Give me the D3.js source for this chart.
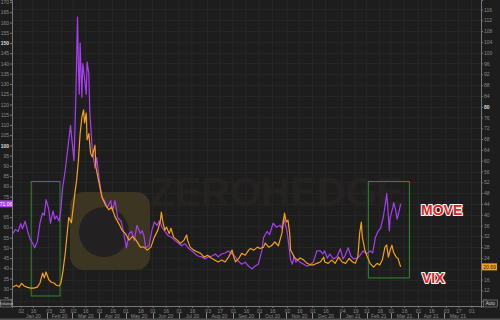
<!DOCTYPE html>
<html>
<head>
<meta charset="utf-8">
<script src="https://cdnjs.cloudflare.com/ajax/libs/d3/7.8.5/d3.min.js"></script>
<style>
  html, body { margin: 0; padding: 0; background: #1d1d1d; overflow: hidden; }
  svg { display: block; font-family: "Liberation Sans", Arial, sans-serif; }
</style>
</head>
<body>
<script>
// MOVE 指数 (左轴)
const moveDates = ['2019-12-24','2019-12-27','2019-12-30','2020-01-02','2020-01-04','2020-01-07','2020-01-10','2020-01-13','2020-01-16','2020-01-18',
  '2020-01-21','2020-01-24','2020-01-27','2020-01-29','2020-01-31','2020-02-03','2020-02-05','2020-02-08','2020-02-10','2020-02-12',
  '2020-02-15','2020-02-17','2020-02-19','2020-02-22','2020-02-25','2020-02-28','2020-03-01','2020-03-03','2020-03-05','2020-03-07',
  '2020-03-08','2020-03-09','2020-03-10','2020-03-12','2020-03-13','2020-03-15','2020-03-17','2020-03-18','2020-03-20','2020-03-21',
  '2020-03-24','2020-03-27','2020-03-29','2020-04-01','2020-04-04','2020-04-07','2020-04-10','2020-04-14','2020-04-16','2020-04-19',
  '2020-04-22','2020-04-26','2020-04-29','2020-05-02','2020-05-05','2020-05-08','2020-05-11','2020-05-14','2020-05-18','2020-05-20',
  '2020-05-22','2020-05-24','2020-05-28','2020-05-31','2020-06-03','2020-06-06','2020-06-09','2020-06-12','2020-06-15','2020-06-19',
  '2020-06-23','2020-06-27','2020-06-30','2020-07-04','2020-07-08','2020-07-12','2020-07-16','2020-07-20','2020-07-23','2020-07-27',
  '2020-07-31','2020-08-04','2020-08-08','2020-08-12','2020-08-15','2020-08-19','2020-08-23','2020-08-27','2020-08-31','2020-09-03',
  '2020-09-07','2020-09-11','2020-09-15','2020-09-19','2020-09-23','2020-09-26','2020-09-30','2020-10-04','2020-10-06','2020-10-10',
  '2020-10-13','2020-10-17','2020-10-21','2020-10-25','2020-10-27','2020-10-29','2020-11-02','2020-11-04','2020-11-06','2020-11-08',
  '2020-11-10','2020-11-12','2020-11-14','2020-11-17','2020-11-21','2020-11-25','2020-11-29','2020-12-02','2020-12-06','2020-12-10',
  '2020-12-13','2020-12-15','2020-12-18','2020-12-21','2020-12-25','2020-12-29','2021-01-02','2021-01-05','2021-01-07','2021-01-11',
  '2021-01-14','2021-01-17','2021-01-21','2021-01-24','2021-01-28','2021-02-01','2021-02-05','2021-02-08','2021-02-11','2021-02-14',
  '2021-02-17','2021-02-20','2021-02-23','2021-02-24','2021-02-25','2021-02-27','2021-02-28','2021-03-03','2021-03-04','2021-03-06',
  '2021-03-08','2021-03-10','2021-03-12'];
const moveValues = [57,59,58,61.8,59.3,63,58,54,52,50,
  53,62,67,66,73.5,69,62,68,64,65.5,
  63,69,79.4,88,99,109.8,101,92.6,122,162.7,
  138,125,150,123.5,140,133,125,140.7,135,117,
  97.5,89,94,83,74.5,73,69.6,73,68,73,
  64.7,63,57,50,57,58,53.4,61,57,58.3,
  56,50,51,58.3,62.7,61,63.2,59.8,58,55.9,
  55,53.4,52.5,51,52,49.8,48.5,47,46,45.6,
  44.6,45.6,46,47,45.6,47,47.5,48.5,47,46,
  43.6,42,43,41,39.7,41,42,48.5,54.9,58,
  56.5,62,60,61,59.5,64.7,58,51,44,42,
  46,43,44,43,42,41,42,43,48.5,48.5,
  47,48.5,45,47,44.6,45.5,49.5,44.6,46,50,
  46,44.6,45,46,48.5,47,48.5,47.5,54.9,58,
  59.5,64.7,73,76.5,71.5,58.3,64.7,69.6,72,69,
  64,67.5,71.5];

// VIX 指数 (右轴)
const vixDates = ['2019-12-24','2019-12-28','2019-12-31','2020-01-03','2020-01-06','2020-01-09','2020-01-13','2020-01-17','2020-01-21','2020-01-24',
  '2020-01-27','2020-01-29','2020-01-31','2020-02-03','2020-02-06','2020-02-09','2020-02-12','2020-02-15','2020-02-17','2020-02-19',
  '2020-02-22','2020-02-26','2020-02-29','2020-03-04','2020-03-06','2020-03-08','2020-03-10','2020-03-12','2020-03-14','2020-03-15',
  '2020-03-17','2020-03-18','2020-03-20','2020-03-22','2020-03-24','2020-03-27','2020-03-28','2020-03-31','2020-04-04','2020-04-08',
  '2020-04-12','2020-04-15','2020-04-19','2020-04-23','2020-04-27','2020-05-01','2020-05-05','2020-05-09','2020-05-13','2020-05-18',
  '2020-05-22','2020-05-26','2020-05-30','2020-06-03','2020-06-07','2020-06-10','2020-06-11','2020-06-13','2020-06-15','2020-06-17',
  '2020-06-20','2020-06-22','2020-06-25','2020-06-29','2020-07-03','2020-07-07','2020-07-10','2020-07-11','2020-07-14','2020-07-18',
  '2020-07-22','2020-07-26','2020-07-30','2020-08-03','2020-08-07','2020-08-11','2020-08-15','2020-08-19','2020-08-23','2020-08-27',
  '2020-08-31','2020-09-02','2020-09-04','2020-09-08','2020-09-11','2020-09-15','2020-09-19','2020-09-21','2020-09-25','2020-09-29',
  '2020-10-02','2020-10-06','2020-10-08','2020-10-12','2020-10-15','2020-10-19','2020-10-23','2020-10-27','2020-10-29','2020-10-30',
  '2020-11-01','2020-11-03','2020-11-05','2020-11-06','2020-11-08','2020-11-10','2020-11-14','2020-11-17','2020-11-21','2020-11-25',
  '2020-11-29','2020-12-02','2020-12-06','2020-12-10','2020-12-14','2020-12-15','2020-12-19','2020-12-23','2020-12-27','2020-12-31',
  '2021-01-04','2021-01-08','2021-01-12','2021-01-16','2021-01-19','2021-01-22','2021-01-24','2021-01-26','2021-01-27','2021-01-30',
  '2021-02-02','2021-02-05','2021-02-09','2021-02-13','2021-02-16','2021-02-19','2021-02-22','2021-02-24','2021-02-26','2021-02-28',
  '2021-03-02','2021-03-04','2021-03-07','2021-03-09','2021-03-12'];
const vixValues = [13.2,13.9,13.2,14.6,13.6,13.2,12.8,12.8,13.2,14.7,
  18.4,16.6,18.8,16,15,14.7,13.9,13.6,14.7,18.4,
  25.8,39,37,48,52.8,60,70,76,78.8,74,
  77.6,67.7,70,62.8,61.4,65.8,57.7,52.8,46.6,43.6,
  41.8,42.9,39.2,36.9,34.3,33,30.6,32,30.6,28,
  28,26.9,28,31.7,34.3,38,41,36.9,34.3,35.4,
  33,35,31.7,30.6,29.4,30.6,32.5,30.6,28,26.9,
  26.3,25.7,24.3,25,24,23.2,22.5,23.2,22.5,24.3,
  26.9,24.3,22.5,24,25.7,25,26.9,27.5,26.9,28,
  27.5,28,29.5,28,28.5,29.9,28.5,33.1,38,40.6,
  37.3,38,33,26.9,25.7,24.3,23.2,24,23.2,22,
  21.4,21.4,22,22.5,24.3,22.5,22,23.2,22,24.3,
  22.5,22,23.8,22.5,22,24.3,33,37.3,32,26.9,
  24.3,22,20.6,22,21.4,23.2,28,28.8,24.3,26.9,
  28.7,26,24.3,23.8,20.69];

// 刻度
const leftTicks = d3.range(25, 171, 5);
const rightTicks = d3.range(8, 117, 4);
const boldLeft = [100, 150];
const boldRight = [80];
const dayTicks = ['2020-01-02','2020-01-16','2020-02-03','2020-02-18','2020-03-02','2020-03-16','2020-04-01','2020-04-16',
  '2020-05-01','2020-05-18','2020-06-01','2020-06-16','2020-07-01','2020-07-16','2020-08-03','2020-08-17','2020-09-01',
  '2020-09-16','2020-10-01','2020-10-16','2020-11-02','2020-11-16','2020-12-01','2020-12-16','2021-01-04','2021-01-19',
  '2021-02-01','2021-02-16','2021-03-01','2021-03-16','2021-04-01','2021-04-16','2021-05-03','2021-05-17','2021-06-01'];
const monthStarts = ['2020-01-01','2020-02-01','2020-03-01','2020-04-01','2020-05-01','2020-06-01','2020-07-01','2020-08-01',
  '2020-09-01','2020-10-01','2020-11-01','2020-12-01','2021-01-01','2021-02-01','2021-03-01','2021-04-01','2021-05-01','2021-06-01'];
const monthLabels = ['Jan 20','Feb 20','Mar 20','Apr 20','May 20','Jun 20','Jul 20','Aug 20','Sep 20','Oct 20','Nov 20','Dec 20',
  'Jan 21','Feb 21','Mar 21','Apr 21','May 21'];

// 绿色标注框 (日期 + 左轴数值)
const boxFrom = ['2020-01-14', '2021-02-03'];
const boxTo = ['2020-02-16', '2021-03-22'];
const boxLow = [26.5, 35.3];
const boxHigh = [82.4, 82.4];

const lastMoveLabel = '71.06';
const lastVixLabel = '20.69';

const width = 500, height = 320;
const margin = { top: 0, right: 19, bottom: 14, left: 12 };
const parse = d3.timeParse('%Y-%m-%d');

const svg = d3.select('body').append('svg')
    .attr('width', width)
    .attr('height', height);

svg.append('rect').attr('width', width).attr('height', height).attr('fill', '#1d1d1d');

const x = d3.scaleTime()
    .domain([parse('2019-12-23'), parse('2021-06-12')])
    .range([margin.left, width - margin.right]);
const yLeft = d3.scaleLinear().domain([21.6, 171]).range([height - margin.bottom, margin.top]);
const yRight = d3.scaleLinear().domain([6.2, 119.5]).range([height - margin.bottom, margin.top]);

const plotBottom = height - margin.bottom;
const moveY = yLeft(moveValues[moveValues.length - 1]);
const vixY = yRight(vixValues[vixValues.length - 1]);

// 网格线
svg.append('g').selectAll('line')
    .data(dayTicks)
    .enter().append('line')
    .attr('x1', d => x(parse(d))).attr('x2', d => x(parse(d)))
    .attr('y1', 0).attr('y2', plotBottom)
    .attr('stroke', '#272727').attr('stroke-width', 1);
svg.append('g').selectAll('line')
    .data(rightTicks)
    .enter().append('line')
    .attr('x1', margin.left).attr('x2', width - margin.right)
    .attr('y1', d => Math.round(yRight(d)) + 0.5).attr('y2', d => Math.round(yRight(d)) + 0.5)
    .attr('stroke', '#252525').attr('stroke-width', 1);

// 水印 (很淡)
const wm = svg.append('g');
wm.append('text')
    .attr('x', 150).attr('y', 206)
    .attr('font-size', 40).attr('font-weight', 'bold')
    .attr('fill', '#252320')
    .text('ZEROHEDGE');
wm.append('rect')
    .attr('x', 70).attr('y', 192).attr('width', 80).attr('height', 78).attr('rx', 14)
    .attr('fill', '#3b3522');
wm.append('circle')
    .attr('cx', 104).attr('cy', 232).attr('r', 25)
    .attr('fill', '#222020');

// 绿色标注框
svg.append('g').selectAll('rect')
    .data(boxFrom)
    .enter().append('rect')
    .attr('x', d => x(parse(d)))
    .attr('y', (d, i) => yLeft(boxHigh[i]))
    .attr('width', (d, i) => x(parse(boxTo[i])) - x(parse(d)))
    .attr('height', (d, i) => yLeft(boxLow[i]) - yLeft(boxHigh[i]))
    .attr('fill', 'none')
    .attr('stroke', '#2e8b2e')
    .attr('stroke-width', 1);

// 折线
const moveData = moveDates.map((d, i) => ({ date: parse(d), value: moveValues[i] }));
const vixData = vixDates.map((d, i) => ({ date: parse(d), value: vixValues[i] }));

svg.append('path')
    .datum(moveData)
    .attr('fill', 'none')
    .attr('stroke', '#a83ff0')
    .attr('stroke-width', 1.2)
    .attr('stroke-linejoin', 'round')
    .attr('d', d3.line().x(d => x(d.date)).y(d => yLeft(d.value)));

svg.append('path')
    .datum(vixData)
    .attr('fill', 'none')
    .attr('stroke', '#f5a30f')
    .attr('stroke-width', 1.2)
    .attr('stroke-linejoin', 'round')
    .attr('d', d3.line().x(d => x(d.date)).y(d => yRight(d.value)));

// 左轴 (被数值框盖住的刻度不显示)
const leftAxis = svg.append('g')
    .attr('transform', `translate(${margin.left},0)`)
    .call(d3.axisLeft(yLeft).tickValues(leftTicks.filter(v => Math.abs(yLeft(v) - moveY) > 6)).tickSize(2).tickPadding(1));
leftAxis.select('.domain').attr('stroke', '#777');
leftAxis.selectAll('.tick line').attr('stroke', '#777');
leftAxis.selectAll('.tick text')
    .attr('fill', d => boldLeft.includes(d) ? '#dddddd' : '#8a8a8a')
    .attr('font-weight', d => boldLeft.includes(d) ? 'bold' : 'normal')
    .style('font-size', '5px');

// 右轴
const rightAxis = svg.append('g')
    .attr('transform', `translate(${width - margin.right},0)`)
    .call(d3.axisRight(yRight).tickValues(rightTicks.filter(v => Math.abs(yRight(v) - vixY) > 6)).tickSize(2).tickPadding(1));
rightAxis.select('.domain').attr('stroke', '#777');
rightAxis.selectAll('.tick line').attr('stroke', '#777');
rightAxis.selectAll('.tick text')
    .attr('fill', d => boldRight.includes(d) ? '#dddddd' : '#8a8a8a')
    .attr('font-weight', d => boldRight.includes(d) ? 'bold' : 'normal')
    .style('font-size', '5px');

// 底轴
const bottomAxis = svg.append('g')
    .attr('transform', `translate(0,${plotBottom})`)
    .call(d3.axisBottom(x).tickValues(dayTicks.map(parse)).tickFormat(d3.timeFormat('%d')).tickSize(2).tickPadding(1));
bottomAxis.select('.domain').attr('stroke', '#777');
bottomAxis.selectAll('.tick line').attr('stroke', '#777');
bottomAxis.selectAll('.tick text').attr('fill', '#8a8a8a').style('font-size', '5px');

// 月份分隔与标签
svg.append('g').selectAll('line')
    .data(monthStarts.slice(1, -1))
    .enter().append('line')
    .attr('x1', d => Math.round(x(parse(d))) + 0.5).attr('x2', d => Math.round(x(parse(d))) + 0.5)
    .attr('y1', plotBottom + 7).attr('y2', height - 1)
    .attr('stroke', '#8a8a8a').attr('stroke-width', 1);
svg.append('g').selectAll('text')
    .data(monthLabels)
    .enter().append('text')
    .attr('x', (d, i) => (x(parse(monthStarts[i])) + x(parse(monthStarts[i + 1]))) / 2)
    .attr('y', plotBottom + 12)
    .attr('text-anchor', 'middle')
    .attr('fill', '#8a8a8a')
    .style('font-size', '5px')
    .text(d => d);
svg.append('rect')
    .attr('x', 0).attr('y', height - 1.5).attr('width', width).attr('height', 1.5)
    .attr('fill', '#555');

// 最新值标签
svg.append('rect').attr('x', 0).attr('y', moveY - 3.5).attr('width', margin.left).attr('height', 7).attr('fill', '#a83ff0');
svg.append('text').attr('x', 6).attr('y', moveY + 1.8).attr('text-anchor', 'middle')
    .attr('fill', '#fff').style('font-size', '5px').text(lastMoveLabel);
svg.append('rect').attr('x', width - margin.right + 1).attr('y', vixY - 3.5).attr('width', 15).attr('height', 7).attr('fill', '#f5a30f');
svg.append('text').attr('x', width - margin.right + 8.5).attr('y', vixY + 1.8).attr('text-anchor', 'middle')
    .attr('fill', '#222').style('font-size', '5px').text(lastVixLabel);

// 角落按钮
svg.append('rect').attr('x', 0.5).attr('y', plotBottom - 6).attr('width', 11).attr('height', 7)
    .attr('fill', '#2a2a2a').attr('stroke', '#888').attr('stroke-width', 0.6);
svg.append('text').attr('x', 6).attr('y', plotBottom - 1).attr('text-anchor', 'middle')
    .attr('fill', '#ccc').style('font-size', '4px').text('Relative');
svg.append('rect').attr('x', width - margin.right + 2.5).attr('y', plotBottom - 6).attr('width', 14).attr('height', 7)
    .attr('fill', '#2a2a2a').attr('stroke', '#888').attr('stroke-width', 0.6);
svg.append('text').attr('x', width - margin.right + 9.5).attr('y', plotBottom - 1).attr('text-anchor', 'middle')
    .attr('fill', '#ccc').style('font-size', '4.5px').text('Auto');

// 系列名称
const seriesLabel = svg.append('g')
    .attr('font-size', '14px')
    .attr('font-weight', 'bold')
    .attr('fill', '#e3221c')
    .attr('stroke', '#ffffff')
    .attr('stroke-width', 2.2)
    .attr('paint-order', 'stroke')
    .attr('stroke-linejoin', 'round');
seriesLabel.append('text').attr('x', 421).attr('y', 215).text('MOVE');
seriesLabel.append('text').attr('x', 422).attr('y', 283).text('VIX');
</script>
</body>
</html>
